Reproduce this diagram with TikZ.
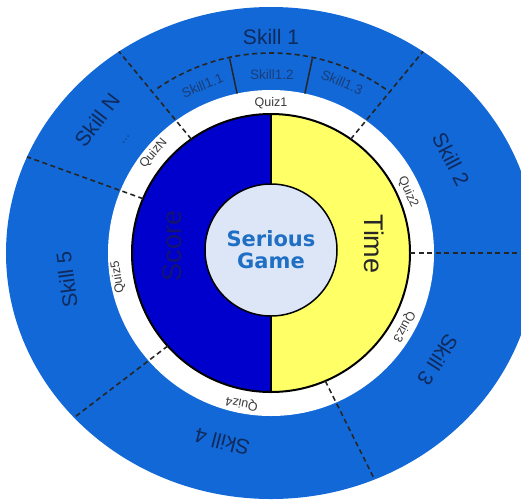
\documentclass[tikz,border=0pt]{standalone}
\usepackage{fontspec}
\setmainfont{Liberation Sans}
\newfontfamily\gamefont{DejaVu Sans}
\usepackage{tikz}
\usetikzlibrary{arrows.meta}
\definecolor{skillblue}{HTML}{1168D6}
\definecolor{scoreblue}{HTML}{0000CC}
\definecolor{timeyellow}{HTML}{FFFF66}
\definecolor{gamefill}{HTML}{DCE6F6}
\definecolor{gametext}{HTML}{1F6FC4}
\definecolor{skilltext}{HTML}{102A5C}
\definecolor{subtext}{HTML}{1A3D78}
\definecolor{quiztext}{HTML}{3A3A3A}
\definecolor{scoretext}{HTML}{141470}
\tikzset{
  every picture/.style={line join=round, >=Stealth},
  sep/.style={line width=1.6pt, dash pattern=on 5pt off 3.5pt, color=black!85},
  subsep/.style={line width=1.5pt, color=black!85},
  skilllabel/.style={font=\fontsize{21}{21}\selectfont, text=skilltext, inner sep=0pt},
  sublabel/.style={font=\fontsize{13.5}{13.5}\selectfont, text=subtext, inner sep=0pt},
  quizlabel/.style={font=\fontsize{12.5}{12.5}\selectfont, text=quiztext, inner sep=0pt},
  halflabel/.style={font=\fontsize{27}{27}\selectfont, inner sep=0pt},
}

\begin{document}
\begin{tikzpicture}[x=1pt,y=1pt]
\clip (-271,-246) rectangle (250,253);
\fill[skillblue] (0,0) ellipse[x radius=265, y radius=246];
\fill[white] (0,0) circle[radius=163];
\fill[scoreblue] (0,139) arc[start angle=90,end angle=270,radius=139] -- cycle;
\fill[timeyellow] (0,-139) arc[start angle=-90,end angle=90,radius=139] -- cycle;
\draw[line width=2pt] (0,0) circle[radius=139];
\draw[line width=2pt] (0,139) -- (0,-139);
\draw[sep] (55:139) -- (55:265 and 246);
\draw[sep] (125:139) -- (125:265 and 246);
\draw[sep] (157:139) -- (157:265 and 246);
\draw[sep] (222:139) -- (222:265 and 246);
\draw[sep] (293:139) -- (293:265 and 246);
\draw[sep] (0:139) -- (0:265 and 246);
\draw[sep] (55:200) arc[start angle=55,end angle=125,radius=200];
\draw[subsep] (78:163) -- (78:199);
\draw[subsep] (102:163) -- (102:199);
\node[circle, minimum size=132, draw, line width=1.5pt, fill=gamefill, align=center, text=gametext, font=\gamefont\bfseries\fontsize{21}{22}\selectfont] (game) at (0,3) {Serious\\Game};
\node[halflabel, rotate=90, text=scoretext] (score) at (-99,7) {Score};
\node[halflabel, rotate=-90, text=black!85] (time) at (103,9) {Time};
\node[skilllabel] (skillone) at (90:216) {Skill 1};
\node[skilllabel, rotate=-62.5] (skilltwo) at (27.5:203) {Skill 2};
\node[skilllabel, rotate=-122.6] (skillthree) at (-32.6:198) {Skill 3};
\node[skilllabel, rotate=165.5] (skillfour) at (255.5:195) {Skill 4};
\node[skilllabel, rotate=97.5] (skillfive) at (187.5:206) {Skill 5};
\node[skilllabel, rotate=52.6] (skilln) at (142.6:219) {Skill N};
\node[sublabel, rotate=52] (skilldots) at (142:184) {...};
\node[sublabel, rotate=22.3] (skilloneone) at (112.3:181) {Skill1.1};
\node[sublabel] (skillonetwo) at (89.7:178) {Skill1.2};
\node[sublabel, rotate=-22.6] (skillonethree) at (67.4:185) {Skill1.3};
\node[quizlabel] (quizone) at (90:150) {Quiz1};
\node[quizlabel, rotate=-66] (quiztwo) at (24:150) {Quiz2};
\node[quizlabel, rotate=-119] (quizthree) at (-29:152) {Quiz3};
\node[quizlabel, rotate=169] (quizfour) at (259:153) {Quiz4};
\node[quizlabel, rotate=99] (quizfive) at (189:155) {Quiz5};
\node[quizlabel, rotate=49.7] (quizn) at (139.7:154) {QuizN};
\end{tikzpicture}
\end{document}
